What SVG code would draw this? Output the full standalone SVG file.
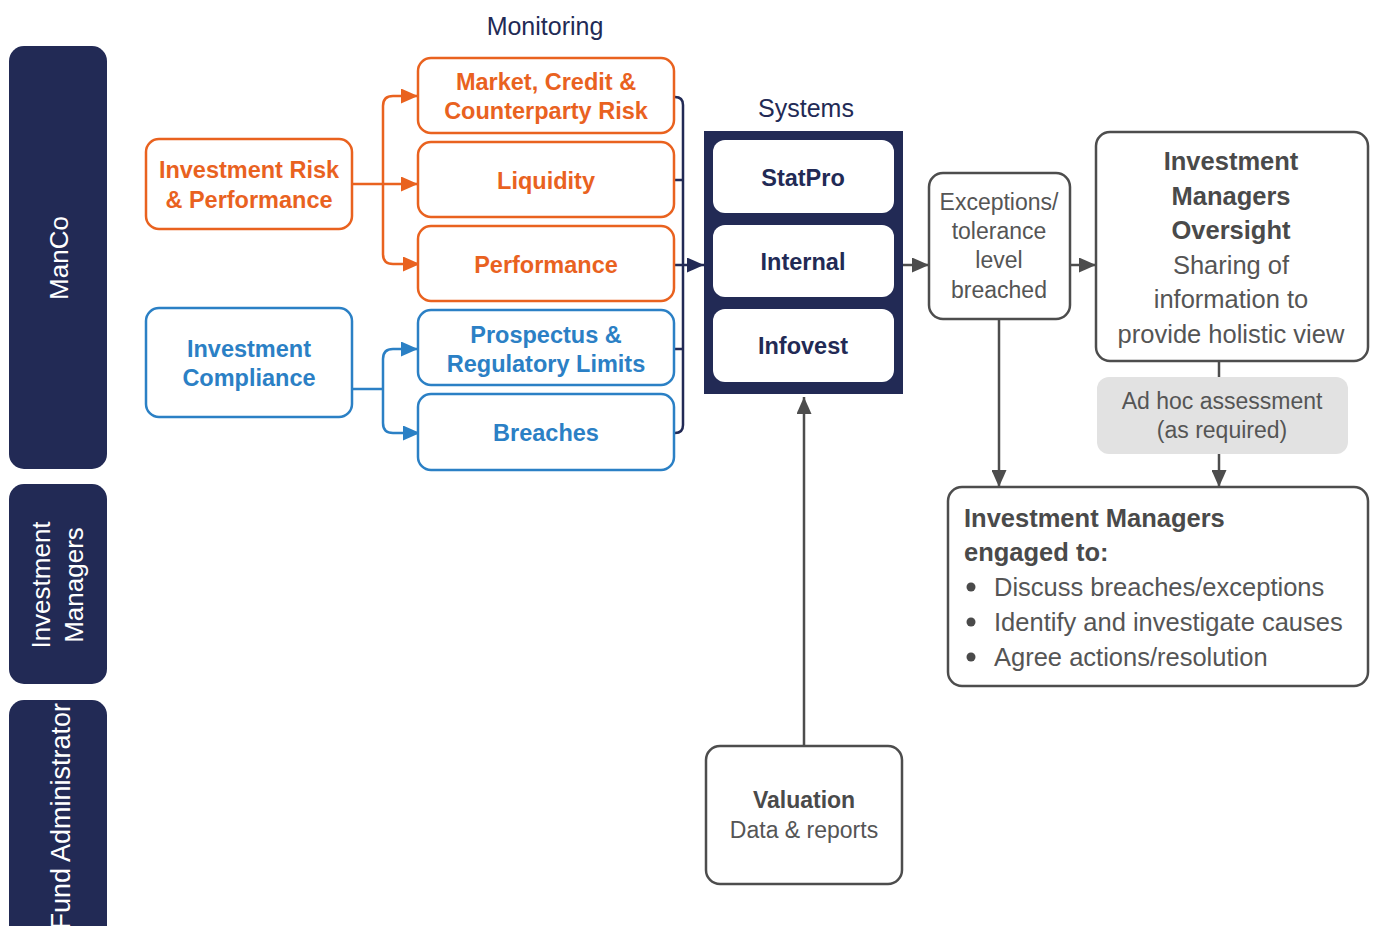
<svg xmlns="http://www.w3.org/2000/svg" width="1379" height="926" viewBox="0 0 1379 926">
<style>
text{font-family:"Liberation Sans",Arial,sans-serif}
.lane{fill:#222a55}
.lanet{fill:#ffffff;font-size:26px}
.ob{fill:#fff;stroke:#e9621f;stroke-width:2.5}
.bb{fill:#fff;stroke:#2b80c5;stroke-width:2.5}
.gb{fill:#fff;stroke:#4d4d4d;stroke-width:2.5}
.ot{fill:#e9621f;font-weight:bold;font-size:23.5px;text-anchor:middle}
.bt{fill:#2b80c5;font-weight:bold;font-size:23.5px;text-anchor:middle}
.nt{fill:#222a55;font-weight:bold;font-size:23.5px;text-anchor:middle}
.title{fill:#222a55;font-size:25px;text-anchor:middle}
.gt{fill:#555555;font-size:23px;text-anchor:middle}
.gbt{fill:#4a4a4a;font-weight:bold;font-size:23px;text-anchor:middle}
.gt26{fill:#555555;font-size:25.5px}
.gbt26{fill:#4a4a4a;font-weight:bold;font-size:25.5px}
.oc{fill:none;stroke:#e9621f;stroke-width:2.5}
.bc{fill:none;stroke:#2b80c5;stroke-width:2.5}
.nc{fill:none;stroke:#222a55;stroke-width:2.5}
.gc{fill:none;stroke:#4d4d4d;stroke-width:2.5}
</style>
<defs>
<marker id="ao" markerUnits="userSpaceOnUse" markerWidth="17" markerHeight="15" refX="17" refY="7.5" orient="auto"><path d="M0,0 L17,7.5 L0,15 z" fill="#e9621f"/></marker>
<marker id="ab" markerUnits="userSpaceOnUse" markerWidth="17" markerHeight="15" refX="17" refY="7.5" orient="auto"><path d="M0,0 L17,7.5 L0,15 z" fill="#2b80c5"/></marker>
<marker id="an" markerUnits="userSpaceOnUse" markerWidth="17" markerHeight="15" refX="17" refY="7.5" orient="auto"><path d="M0,0 L17,7.5 L0,15 z" fill="#222a55"/></marker>
<marker id="ag" markerUnits="userSpaceOnUse" markerWidth="17" markerHeight="15" refX="17" refY="7.5" orient="auto"><path d="M0,0 L17,7.5 L0,15 z" fill="#4d4d4d"/></marker>
</defs>
<rect width="1379" height="926" fill="#ffffff"/>

<g id="lane-manco">
<rect class="lane" x="9" y="46" width="98" height="423" rx="15"/>
<text class="lanet" text-anchor="middle" transform="translate(68,258) rotate(-90)">ManCo</text>
</g>
<g id="lane-im">
<rect class="lane" x="9" y="484" width="98" height="200" rx="15"/>
<text class="lanet" text-anchor="middle" transform="translate(50,585) rotate(-90)">Investment</text>
<text class="lanet" text-anchor="middle" transform="translate(83,585) rotate(-90)">Managers</text>
</g>
<g id="lane-fa">
<rect class="lane" x="9" y="700" width="98" height="250" rx="15"/>
<text class="lanet" style="font-size:27px" text-anchor="end" transform="translate(70,703) rotate(-90)">Fund Administrator</text>
</g>

<text class="title" x="545" y="35">Monitoring</text>
<text class="title" x="806" y="117">Systems</text>

<g id="connectors">
<path class="oc" d="M352,184 H418" marker-end="url(#ao)"/>
<path class="oc" d="M383,184 V106 Q383,96 393,96 H418" marker-end="url(#ao)"/>
<path class="oc" d="M383,184 V254 Q383,264 393,264 H420" marker-end="url(#ao)"/>
<path class="bc" d="M352,389 H383"/>
<path class="bc" d="M383,389 V359 Q383,349 393,349 H418" marker-end="url(#ab)"/>
<path class="bc" d="M383,389 V423 Q383,433 393,433 H420" marker-end="url(#ab)"/>
<path class="nc" d="M674,97 H675 Q683,97 683,105 V425 Q683,433 675,433 H674"/>
<path class="nc" d="M674,180 H683 M674,349 H683"/>
<path class="nc" d="M674,265 H704" marker-end="url(#an)"/>
<path class="gc" d="M903,265 H929" marker-end="url(#ag)"/>
<path class="gc" d="M1070,265 H1096" marker-end="url(#ag)"/>
<path class="gc" d="M999,319 V487" marker-end="url(#ag)"/>
<path class="gc" d="M1219,361 V377"/>
<path class="gc" d="M1219,454 V487" marker-end="url(#ag)"/>
<path class="gc" d="M804,746 V397" marker-end="url(#ag)"/>
</g>

<g id="node-irp">
<rect class="ob" x="146" y="139" width="206" height="90" rx="13"/>
<text class="ot" x="249" y="178">Investment Risk</text>
<text class="ot" x="249" y="208">&amp; Performance</text>
</g>
<g id="node-ic">
<rect class="bb" x="146" y="308" width="206" height="109" rx="13"/>
<text class="bt" x="249" y="357">Investment</text>
<text class="bt" x="249" y="386">Compliance</text>
</g>
<g id="node-mccr">
<rect class="ob" x="418" y="58" width="256" height="75" rx="13"/>
<text class="ot" x="546" y="90">Market, Credit &amp;</text>
<text class="ot" x="546" y="119">Counterparty Risk</text>
</g>
<g id="node-liq">
<rect class="ob" x="418" y="142" width="256" height="75" rx="13"/>
<text class="ot" x="546" y="189">Liquidity</text>
</g>
<g id="node-perf">
<rect class="ob" x="418" y="226" width="256" height="75" rx="13"/>
<text class="ot" x="546" y="273">Performance</text>
</g>
<g id="node-prl">
<rect class="bb" x="418" y="310" width="256" height="75" rx="13"/>
<text class="bt" x="546" y="343">Prospectus &amp;</text>
<text class="bt" x="546" y="372">Regulatory Limits</text>
</g>
<g id="node-breaches">
<rect class="bb" x="418" y="394" width="256" height="76" rx="13"/>
<text class="bt" x="546" y="441">Breaches</text>
</g>

<g id="node-systems">
<rect x="704" y="131" width="199" height="263" fill="#222a55"/>
<rect x="713" y="140" width="181" height="73" rx="12" fill="#ffffff"/>
<text class="nt" x="803" y="186">StatPro</text>
<rect x="713" y="225" width="181" height="72" rx="12" fill="#ffffff"/>
<text class="nt" x="803" y="270">Internal</text>
<rect x="713" y="309" width="181" height="73" rx="12" fill="#ffffff"/>
<text class="nt" x="803" y="354">Infovest</text>
</g>

<g id="node-exceptions">
<rect class="gb" x="929" y="173" width="141" height="146" rx="14"/>
<text class="gt" x="999" y="210">Exceptions/</text>
<text class="gt" x="999" y="239">tolerance</text>
<text class="gt" x="999" y="268">level</text>
<text class="gt" x="999" y="298">breached</text>
</g>

<g id="node-imo">
<rect class="gb" x="1096" y="132" width="272" height="229" rx="14"/>
<text class="gbt26" x="1231" y="170" text-anchor="middle">Investment</text>
<text class="gbt26" x="1231" y="204.5" text-anchor="middle">Managers</text>
<text class="gbt26" x="1231" y="239" text-anchor="middle">Oversight</text>
<text class="gt26" x="1231" y="273.5" text-anchor="middle">Sharing of</text>
<text class="gt26" x="1231" y="308" text-anchor="middle">information to</text>
<text class="gt26" x="1231" y="342.5" text-anchor="middle">provide holistic view</text>
</g>

<g id="node-adhoc">
<rect x="1097" y="377" width="251" height="77" rx="12" fill="#e2e2e2"/>
<text class="gt" x="1222" y="409">Ad hoc assessment</text>
<text class="gt" x="1222" y="438">(as required)</text>
</g>

<g id="node-engaged">
<rect class="gb" x="948" y="487" width="420" height="199" rx="14"/>
<text class="gbt26" x="964" y="527">Investment Managers</text>
<text class="gbt26" x="964" y="561">engaged to:</text>
<circle cx="971" cy="587" r="4.5" fill="#4a4a4a"/>
<circle cx="971" cy="622" r="4.5" fill="#4a4a4a"/>
<circle cx="971" cy="657" r="4.5" fill="#4a4a4a"/>
<text class="gt26" x="994" y="596">Discuss breaches/exceptions</text>
<text class="gt26" x="994" y="631">Identify and investigate causes</text>
<text class="gt26" x="994" y="666">Agree actions/resolution</text>
</g>

<g id="node-valuation">
<rect class="gb" x="706" y="746" width="196" height="138" rx="14"/>
<text class="gbt" x="804" y="808">Valuation</text>
<text class="gt" x="804" y="838">Data &amp; reports</text>
</g>
</svg>
